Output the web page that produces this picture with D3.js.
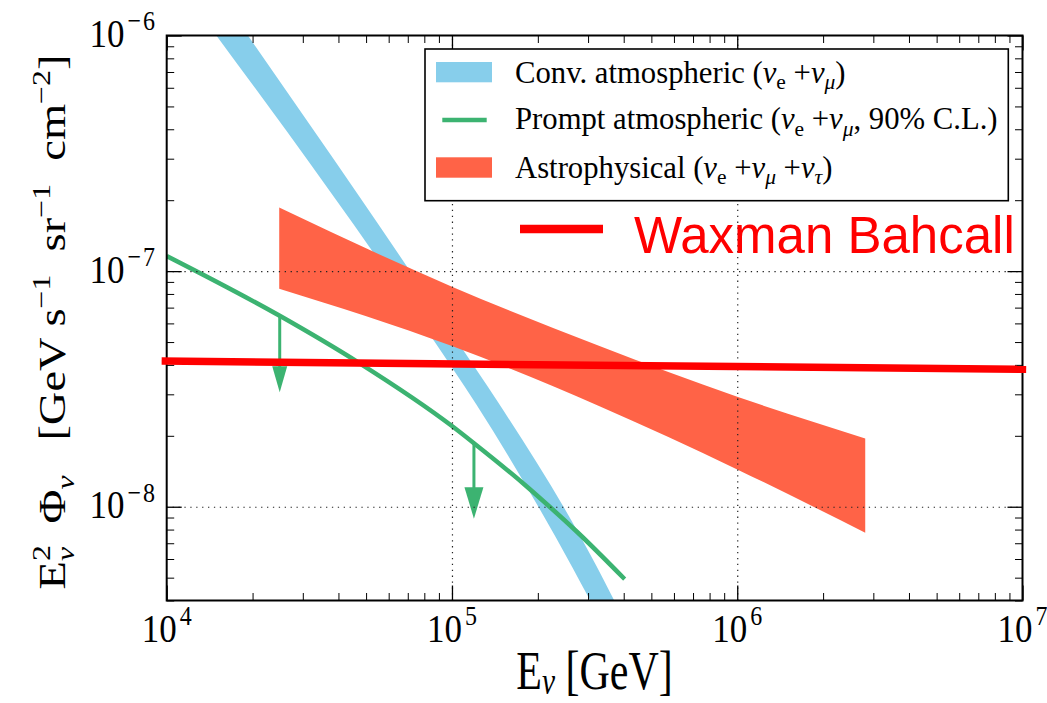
<!DOCTYPE html>
<html lang="en">
<head>
<meta charset="UTF-8">
<title>Neutrino flux</title>
<script src="https://d3js.org/d3.v7.min.js"></script>
<style>
	body { margin: 0; background: #fff; }
	svg { display: block; }
	text { white-space: pre; }
</style>
</head>
<body>
<div id="chart"></div>
<script>
// axis ticks
const xTickValues = [1e4, 1e5, 1e6, 1e7];
const xTickExps = ["4", "5", "6", "7"];
const yTickValues = [1e-8, 1e-7, 1e-6];
const yTickExps = ["\u22128", "\u22127", "\u22126"];
const xGrid = [1e5, 1e6];
const yGrid = [1e-8, 1e-7];

// conventional atmospheric band (lower / upper edge)
const convLowE = [1.259e4, 1.476e4, 2.64e4, 8.47e4, 1.216e5, 2.65e5, 3.03e5, 3.55e5];
const convLowFlux = [1.324e-6, 1.019e-6, 3.91e-7, 5.25e-8, 2.72e-8, 5.5e-9, 4.07e-9, 2.88e-9];
const convUpE = [1.585e4, 1.905e4, 4.82e4, 1.09e5, 1.43e5, 3.21e5, 3.61e5, 4.17e5];
const convUpFlux = [1.41e-6, 1.02e-6, 2.01e-7, 4.66e-8, 2.85e-8, 5.6e-9, 4.25e-9, 3.02e-9];

// prompt atmospheric limit
const promptE = [1e4, 2.49e4, 4.75e4, 1e5, 1.194e5, 1.82e5, 2.2e5, 2.73e5, 4.03e5];
const promptFlux = [1.159e-7, 6.46e-8, 4.06e-8, 2.2e-8, 1.86e-8, 1.225e-8, 1e-8, 7.87e-9, 4.93e-9];
const arrowE = [2.49e4, 1.194e5];
const arrowFrom = [6.46e-8, 1.86e-8];
const arrowHead = [3.95e-8, 1.21e-8];
const arrowTip = [3.06e-8, 8.9e-9];

// astrophysical band
const astroE = [2.48e4, 1e5, 3.29e5, 1e6, 2.81e6];
const astroUp = [1.86e-7, 8.59e-8, 4.81e-8, 2.93e-8, 1.95e-8];
const astroLow = [8.42e-8, 4.81e-8, 2.67e-8, 1.44e-8, 7.76e-9];

// Waxman Bahcall bound
const wbE = [9.6e3, 1.03e7];
const wbFlux = [4.15e-8, 3.83e-8];

const legendRows = [
	[["Conv. atmospheric ("], ["\u03bd", "i"], ["e", "sub"], [" +"], ["\u03bd", "i"], ["\u03bc", "subi"], [")"]],
	[["Prompt atmospheric ("], ["\u03bd", "i"], ["e", "sub"], [" +"], ["\u03bd", "i"], ["\u03bc", "subi"], [", 90% C.L.)"]],
	[["Astrophysical ("], ["\u03bd", "i"], ["e", "sub"], [" +"], ["\u03bd", "i"], ["\u03bc", "subi"], [" +"], ["\u03bd", "i"], ["\u03c4", "subi"], [")"]]
];

const colors = { conv: "#87CEEB", prompt: "#3CB371", astro: "#FF6347", wb: "#FF0000" };
const serif = "'Liberation Serif', 'Times New Roman', serif";

const W = 1047, H = 703;
const pLeft = 166.7, pRight = 1022.5, pTop = 35.5, pBottom = 600.5;

const x = d3.scaleLog().domain([1e4, 1e7]).range([pLeft, pRight]);
const y = d3.scaleLog().domain([4e-9, 1e-6]).range([pBottom, pTop]);

const svg = d3.select("#chart").append("svg")
	.attr("width", W).attr("height", H)
	.style("font-family", serif);

svg.append("clipPath").attr("id", "plot")
	.append("rect").attr("x", pLeft).attr("y", pTop)
	.attr("width", pRight - pLeft).attr("height", pBottom - pTop);

const plot = svg.append("g").attr("clip-path", "url(#plot)");

const line = d3.line().x(d => x(d[0])).y(d => y(d[1])).curve(d3.curveMonotoneX);

// conventional band: lower edge then upper edge back
const lowPts = convLowE.map((e, i) => [e, convLowFlux[i]]);
const upPts = convUpE.map((e, i) => [e, convUpFlux[i]]);
const lowPath = line(lowPts);
const upPath = line(upPts.slice().reverse()).replace(/^M/, "L");
plot.append("path")
	.attr("d", lowPath + upPath + "Z")
	.attr("fill", colors.conv);

// astrophysical band
const astroArea = d3.area()
	.x(d => x(d.e)).y0(d => y(d.lo)).y1(d => y(d.hi))
	.curve(d3.curveMonotoneX);
plot.append("path")
	.datum(astroE.map((e, i) => ({ e: e, lo: astroLow[i], hi: astroUp[i] })))
	.attr("d", astroArea)
	.attr("fill", colors.astro);

// prompt line + arrows
plot.append("path")
	.attr("d", line(promptE.map((e, i) => [e, promptFlux[i]])))
	.attr("fill", "none")
	.attr("stroke", colors.prompt)
	.attr("stroke-width", 4.5);

const headW = [15, 19];
arrowE.forEach((e, i) => {
	const ax = x(e);
	plot.append("line")
		.attr("x1", ax).attr("x2", ax)
		.attr("y1", y(arrowFrom[i])).attr("y2", y(arrowHead[i]) + 1)
		.attr("stroke", colors.prompt).attr("stroke-width", 3);
	plot.append("path")
		.attr("d", `M${ax - headW[i] / 2},${y(arrowHead[i])}L${ax + headW[i] / 2},${y(arrowHead[i])}L${ax},${y(arrowTip[i])}Z`)
		.attr("fill", colors.prompt);
});

// dotted grid
const grid = svg.append("g");
grid.append("g").attr("transform", `translate(0,${pBottom})`)
	.call(d3.axisBottom(x).tickValues(xGrid).tickSize(-(pBottom - pTop)).tickFormat(""));
grid.append("g").attr("transform", `translate(${pLeft},0)`)
	.call(d3.axisLeft(y).tickValues(yGrid).tickSize(-(pRight - pLeft)).tickFormat(""));
grid.selectAll(".domain").remove();
grid.selectAll("line")
	.attr("stroke", "#222")
	.attr("stroke-width", 1.2)
	.attr("stroke-dasharray", "1.3 4.6");

// ticks, inward on all four sides
const xMinor = [], yMinor = [];
[4, 5, 6].forEach(k => d3.range(2, 10).forEach(m => xMinor.push(m * Math.pow(10, k))));
[-9, -8, -7].forEach(k => d3.range(2, 10).forEach(m => {
	const v = m * Math.pow(10, k);
	if (v >= 4e-9 && v <= 1e-6) yMinor.push(v);
}));

function ticks(axisFn, scale, values, size, tr, width) {
	const g = svg.append("g").attr("transform", tr)
		.call(axisFn(scale).tickValues(values).tickSize(-size).tickFormat(""));
	g.select(".domain").remove();
	g.selectAll("line").attr("stroke", "#000").attr("stroke-width", width);
}
[[15, xTickValues, 1.3], [7.5, xMinor, 1]].forEach(([s, v, w]) => {
	ticks(d3.axisBottom, x, v, s, `translate(0,${pBottom})`, w);
	ticks(d3.axisTop, x, v, s, `translate(0,${pTop})`, w);
});
[[15, yTickValues, 1.3], [7.5, yMinor, 1]].forEach(([s, v, w]) => {
	ticks(d3.axisLeft, y, v, s, `translate(${pLeft},0)`, w);
	ticks(d3.axisRight, y, v, s, `translate(${pRight},0)`, w);
});

svg.append("rect")
	.attr("x", pLeft).attr("y", pTop)
	.attr("width", pRight - pLeft).attr("height", pBottom - pTop)
	.attr("fill", "none").attr("stroke", "#000").attr("stroke-width", 2);

// tick labels 10^n
function powLabel(g, exp, anchor) {
	const t = g.append("text").attr("text-anchor", anchor)
		.attr("font-size", 35).attr("fill", "#000");
	t.append("tspan").text("10");
	t.append("tspan").text(exp).attr("font-size", 24)
		.attr("letter-spacing", exp.length > 1 ? 2 : 0)
		.attr("dy", -14.5).attr("dx", 3);
}
xTickValues.forEach((v, i) => {
	const g = svg.append("g").attr("transform", `translate(${x(v)},641.7) scale(1,1.15)`);
	powLabel(g, xTickExps[i], "middle");
});
yTickValues.forEach((v, i) => {
	const g = svg.append("g").attr("transform", `translate(157,${y(v) + 11.5}) scale(1,1.15)`);
	powLabel(g, yTickExps[i], "end");
});

// rich text helper
function rich(text, segs, size, subShift) {
	let shift = 0;
	segs.forEach(([t, st]) => {
		const small = st === "sub" || st === "subi" || st === "sup";
		const target = (st === "sub" || st === "subi") ? size * (subShift || 0.22) : st === "sup" ? -size * 0.4 : 0;
		const ts = text.append("tspan").text(t).attr("dy", target - shift);
		shift = target;
		if (small) ts.attr("font-size", size * 0.7);
		if (st === "i" || st === "subi") ts.attr("font-style", "italic");
	});
}

// x axis label
const xl = svg.append("g").attr("transform", "translate(594.5,689) scale(1,1.3)")
	.append("text").attr("text-anchor", "middle").attr("font-size", 42);
rich(xl, [["E"], ["\u03bd", "subi"], [" [GeV]"]], 42, 0.1);

// y axis label
const yg = svg.append("g").attr("transform", "translate(65,322) rotate(-90)");
const yl = yg.append("text").attr("text-anchor", "middle").attr("font-size", 38);
yl.append("tspan").text("E");
yl.append("tspan").text("2").attr("font-size", 26).attr("dy", -15);
yl.append("tspan").text("\u03bd").attr("font-size", 26).attr("font-style", "italic").attr("dx", -13).attr("dy", 24);
yl.append("tspan").text("  \u03a6").attr("dy", -9);
yl.append("tspan").text("\u03bd").attr("font-size", 26).attr("font-style", "italic").attr("dy", 9);
yl.append("tspan").text("   [GeV s").attr("dy", -9);
yl.append("tspan").text("\u22121").attr("font-size", 26).attr("dy", -15);
yl.append("tspan").text("  sr").attr("dy", 15);
yl.append("tspan").text("\u22121").attr("font-size", 26).attr("dy", -15);
yl.append("tspan").text("  cm").attr("dy", 15);
yl.append("tspan").text("\u22122").attr("font-size", 26).attr("dy", -15);
yl.append("tspan").text("]").attr("dy", 15);
const yw = yl.node().getBBox().width;
yl.attr("transform", `scale(${535 / yw},1)`);

// legend
const lg = svg.append("g");
lg.append("rect").attr("x", 425).attr("y", 49).attr("width", 583.3).attr("height", 151.7)
	.attr("fill", "#fff").attr("stroke", "#000").attr("stroke-width", 1.6);
lg.append("rect").attr("x", 436).attr("y", 62).attr("width", 56).attr("height", 20.3).attr("fill", colors.conv);
lg.append("line").attr("x1", 442.3).attr("x2", 486.7).attr("y1", 120).attr("y2", 120)
	.attr("stroke", colors.prompt).attr("stroke-width", 4.7);
lg.append("rect").attr("x", 436).attr("y", 157.3).attr("width", 56).attr("height", 20.4).attr("fill", colors.astro);
const rowBase = [82.7, 129.3, 177.7];
legendRows.forEach((segs, i) => {
	const t = lg.append("text").attr("x", 515).attr("y", rowBase[i]).attr("font-size", 30.7).attr("fill", "#000");
	rich(t, segs, 30.7);
});

// Waxman Bahcall overlay
svg.append("path")
	.attr("d", d3.line().x(d => x(d[0])).y(d => y(d[1]))(wbE.map((e, i) => [e, wbFlux[i]])))
	.attr("stroke", colors.wb).attr("stroke-width", 7.5).attr("fill", "none");
svg.append("line").attr("x1", 520).attr("x2", 603).attr("y1", 229).attr("y2", 229)
	.attr("stroke", colors.wb).attr("stroke-width", 8.3);
svg.append("text").attr("x", 634).attr("y", 253.3)
	.attr("font-family", "'Liberation Sans', Arial, sans-serif")
	.attr("font-size", 51).attr("fill", colors.wb)
	.text("Waxman Bahcall");
</script>
</body>
</html>
